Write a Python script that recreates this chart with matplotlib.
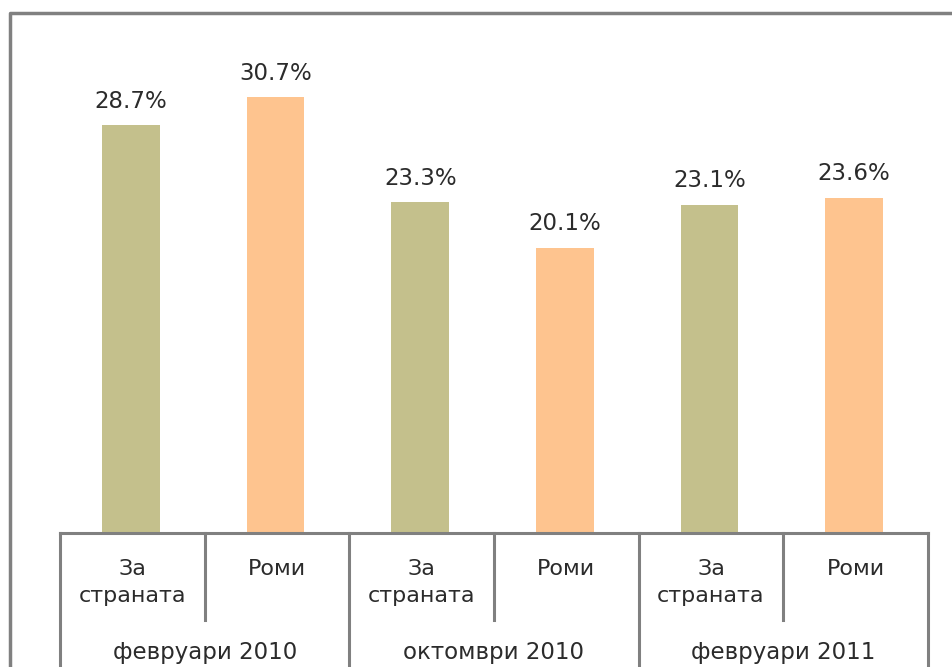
import matplotlib
matplotlib.use('Agg')
import matplotlib.pyplot as plt
from matplotlib.lines import Line2D

# data
periods = ['февруари 2010', 'октомври 2010', 'февруари 2011']
groups = ['За\nстраната', 'Роми']
values = [28.7, 30.7, 23.3, 20.1, 23.1, 23.6]
value_labels = ['28.7%', '30.7%', '23.3%', '20.1%', '23.1%', '23.6%']

colors = ['#C4C08C', '#FEC48F']
line_color = '#808080'
text_color = '#2b2b2b'

plt.rcParams['font.family'] = ['DejaVu Sans']

W, H = 952, 667
fig = plt.figure(figsize=(W / 100, H / 100), dpi=100)
fig.patch.set_facecolor('white')

# axes: baseline at y=533px, top at y=13px, x from 60 to 928px
ax_left, ax_right = 60, 928
ax_bottom, ax_top = 533, 13
ax = fig.add_axes([ax_left / W, (H - ax_bottom) / H,
                   (ax_right - ax_left) / W, (ax_bottom - ax_top) / H])
ax.set_axis_off()

n = len(values)
x = list(range(n))
bar_colors = [colors[i % 2] for i in range(n)]
rects = ax.bar([i - 0.01 for i in x], values, width=0.4, color=bar_colors, zorder=2)
ax.set_xlim(-0.5, n - 0.5)
ax.set_ylim(0, 520 / 14.2)

for rect, lab in zip(rects, value_labels):
    ax.annotate(lab, (rect.get_x() + rect.get_width() / 2, rect.get_height()),
                xytext=(0, 9), textcoords='offset points',
                ha='center', va='bottom', fontsize=16.5, color=text_color)

# category table under the axis
ax_h = ax_bottom - ax_top
def yfrac(px):
    return -(px - ax_bottom) / ax_h

tr = ax.get_xaxis_transform()
lw = 2.2
ax.add_line(Line2D([-0.5, n - 0.5], [0, 0], transform=tr, color=line_color,
                   lw=lw, clip_on=False, zorder=3))
for i in range(n + 1):
    xb = i - 0.5
    bottom = H if i % 2 == 0 else 620
    ax.add_line(Line2D([xb, xb], [0, yfrac(bottom)], transform=tr,
                       color=line_color, lw=lw, clip_on=False))

for i in range(n):
    ax.text(i, yfrac(559), groups[i % 2], transform=tr, ha='center', va='top',
            fontsize=16, color=text_color, linespacing=1.45)

for j, p in enumerate(periods):
    ax.text(2 * j + 0.5, yfrac(653), p, transform=tr, ha='center',
            va='center', fontsize=16.5, color=text_color)

# outer frame (left and top edges visible)
fig.add_artist(Line2D([10 / W, 10 / W, 1], [0, 1 - 13 / H, 1 - 13 / H],
                      transform=fig.transFigure, color=line_color, lw=2.5))

fig.savefig('out.png', dpi=100)
